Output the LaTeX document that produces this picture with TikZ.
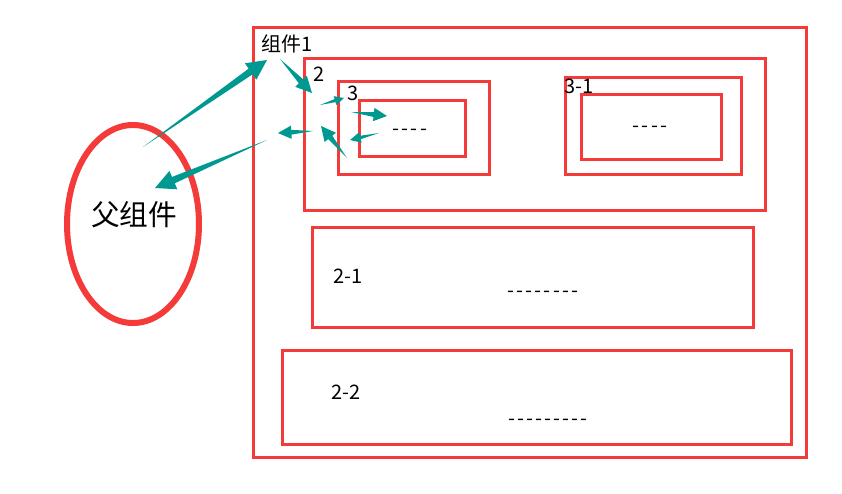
\documentclass[tikz,border=0pt]{standalone}
\usepackage{fontspec}
\setmainfont{Noto Sans CJK SC}
\usetikzlibrary{calc}

\definecolor{boxred}{RGB}{245,58,58}
\definecolor{arrowteal}{RGB}{0,153,145}

\tikzset{every picture/.style={line width=0.75pt}}
\tikzset{
  redbox/.style={draw=boxred, line width=2.25pt},
  lbl/.style={font=\fontsize{15}{18}\selectfont, inner sep=0pt},
}

% tapered arrow: start, tip, head length, head half width, body half width
\newcommand{\taper}[5]{%
  \coordinate (hb) at ($(#2)!#3!(#1)$);
  \fill[arrowteal] (#1) -- ($(hb)!#5!90:(#2)$) -- ($(hb)!#4!90:(#2)$) -- (#2)
    -- ($(hb)!#4!-90:(#2)$) -- ($(hb)!#5!-90:(#2)$) -- cycle ;}
% row of hyphens
\newcommand{\hyph}[1]{\foreach \i in {1,...,#1}{-\kern1.6pt}}

\begin{document}
\begin{tikzpicture}[x=0.75pt,y=0.75pt,yscale=-1,xscale=1]
\useasboundingbox (0,0) rectangle (842,493);

%Shape: Ellipse
\draw [draw=boxred, line width=4.5pt] (133,224) ellipse (66 and 99);
%Shape: Rectangle 组件1
\draw [redbox] (253,27) rectangle (806,457);
%Shape: Rectangle 2
\draw [redbox] (304,58) rectangle (765,210);
%Shape: Rectangle 3
\draw [redbox] (338,81) rectangle (489,174);
\draw [redbox] (359,100) rectangle (465,156);
%Shape: Rectangle 3-1
\draw [redbox] (565,77) rectangle (741,174);
\draw [redbox] (581,94) rectangle (721,159);
%Shape: Rectangle 2-1
\draw [redbox] (312,227) rectangle (753,327);
%Shape: Rectangle 2-2
\draw [redbox] (282,350) rectangle (791,444);

% Text Node
\node (parent) at (134,215) [font=\fontsize{21.5}{26}\selectfont] {父组件};
\node (c1) at (261,44) [lbl, anchor=west] {组件1};
\node (c2) at (319,74) [lbl] {2};
\node (c3) at (353,93) [lbl] {3};
\node (c3d) at (411,132) [lbl] {\hyph{4}};
\node (c31) at (579,86) [lbl] {3-1};
\node (c31d) at (651,129) [lbl] {\hyph{4}};
\node (c21) at (348,276) [lbl] {2-1};
\node (c21d) at (544,294) [lbl] {\hyph{8}};
\node (c22) at (346,392) [lbl] {2-2};
\node (c22d) at (549,422) [lbl] {\hyph{9}};

%Arrows
\coordinate (a1s) at (143,147);  \coordinate (a1t) at (267,60);
\coordinate (a2s) at (280,59);   \coordinate (a2t) at (312,93);
\coordinate (a3s) at (320,105);  \coordinate (a3t) at (344,98);
\coordinate (a4s) at (351,112);  \coordinate (a4t) at (387,116);
\coordinate (a5s) at (379,133);  \coordinate (a5t) at (350,140);
\coordinate (a6s) at (347,158);  \coordinate (a6t) at (321,126);
\coordinate (a7s) at (313,131);  \coordinate (a7t) at (278,133);
\coordinate (a8s) at (267,140);  \coordinate (a8t) at (155,188);

\taper{a1s}{a1t}{15pt}{7.5pt}{2.6pt}
\taper{a2s}{a2t}{12pt}{6pt}{2.2pt}
\taper{a3s}{a3t}{7pt}{3.5pt}{1.2pt}
\taper{a4s}{a4t}{10pt}{5pt}{1.8pt}
\taper{a5s}{a5t}{8pt}{4pt}{1.3pt}
\taper{a6s}{a6t}{11pt}{5.5pt}{2pt}
\taper{a7s}{a7t}{10pt}{5pt}{1.8pt}
\taper{a8s}{a8t}{15pt}{7.5pt}{2.6pt}

\end{tikzpicture}
\end{document}
